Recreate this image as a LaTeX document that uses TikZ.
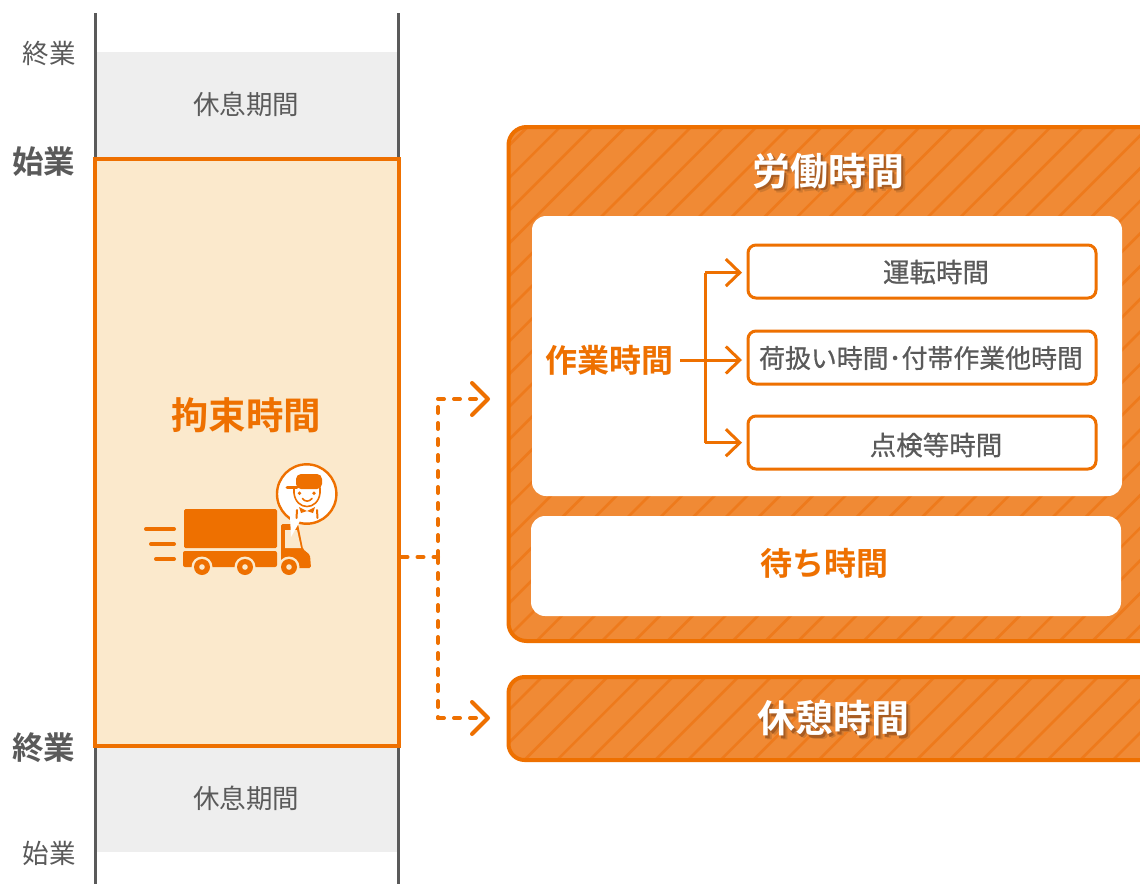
\documentclass[tikz,border=0pt]{standalone}
\usepackage{fontspec}
\usetikzlibrary{arrows.meta}
\setmainfont{Noto Sans CJK JP}
\newfontfamily\medjp[FakeBold=0.6]{Noto Sans CJK JP}
\newfontfamily\boldjp{Noto Sans CJK JP Bold}
\definecolor{org}{HTML}{EE7000}
\definecolor{orgfill}{HTML}{F08A35}
\definecolor{orgline}{HTML}{EE7A1C}
\definecolor{cream}{HTML}{FBE9CC}
\definecolor{txt}{HTML}{5A5A5A}
\definecolor{pale}{HTML}{EEEEEE}
\definecolor{shadeA}{HTML}{D07A30}
\definecolor{shadeB}{HTML}{A85C22}
\newcommand{\fsz}[1]{\fontsize{#1}{#1}\selectfont}
\newcommand{\shadowed}[1]{\makebox[0pt][l]{\hspace{4pt}\raisebox{-4pt}{\textcolor{shadeA}{#1}}}\makebox[0pt][l]{\hspace{2.5pt}\raisebox{-2.5pt}{\textcolor{shadeB}{#1}}}#1}
\tikzset{
  every node/.style={outer sep=0pt},
  thinlabel/.style={text=txt,inner sep=0pt,font=\fsz{26.5}},
  plainlabel/.style={text=txt,inner sep=0pt,font=\fsz{26.5}\medjp},
  widelabel/.style={text=txt,inner sep=0pt,font=\fsz{25.9}\medjp},
  boldlabel/.style={text=txt,inner sep=0pt,font=\fsz{31.5}\boldjp},
  orglabel/.style={text=org,inner sep=0pt,font=\fsz{32}\boldjp},
  biglabel/.style={text=org,inner sep=0pt,font=\fsz{37.5}\boldjp},
  whitelabel/.style={text=white,inner sep=0pt,font=\fsz{38}\boldjp},
  smallbox/.style={draw=org,line width=3pt,fill=white,rounded corners=8pt,minimum width=348pt,minimum height=53pt,inner sep=0pt},
  thinconn/.style={draw=org,line width=3pt,-{Straight Barb[length=14pt,width=27pt,line width=3pt]}},
  thinline/.style={draw=org,line width=3pt},
  dashconn/.style={draw=org,line width=4pt,line cap=round,dash pattern=on 6pt off 10pt},
  dashtip/.style={dashconn,-{Straight Barb[length=16pt,width=32pt,line width=4pt,round]}},
  hatchline/.style={draw=orgline,line width=2.6pt},
  truckpart/.style={fill=org,draw=none},
  face/.style={draw=org,line width=1.6pt,line cap=round},
}
\begin{document}
\begin{tikzpicture}[x=1pt,y=-1pt]
\clip (0,0) rectangle (1140,884);
\fill[white] (0,0) rectangle (1140,884);
% left column
\fill[pale] (96,52) rectangle (398,160);
\fill[pale] (96,745) rectangle (398,852);
\coordinate (lt) at (95,13); \coordinate (lb) at (95,884);
\coordinate (rt) at (398,13); \coordinate (rb) at (398,884);
\draw[txt,line width=3pt] (lt) -- (lb);
\draw[txt,line width=3pt] (rt) -- (rb);
\node[draw=org,fill=cream,line width=4pt,minimum width=303.5pt,minimum height=587pt,inner sep=0pt,anchor=north west] (main) at (95,158.5) {};
\node[thinlabel] (e1) at (49.5,53.5) {終業};
\node[thinlabel] (r1) at (246,104.5) {休息期間};
\node[boldlabel] (s1) at (44,161.5) {始業};
\node[boldlabel] (e2) at (44,747.5) {終業};
\node[thinlabel] (r2) at (246,798.5) {休息期間};
\node[thinlabel] (s2) at (49.5,853.5) {始業};
\node[biglabel] (kosoku) at (246,415) {拘束時間};
% truck
\draw[org,line width=4pt,line cap=round] (146,529) -- (174,529);
\draw[org,line width=4pt,line cap=round] (151,544) -- (174,544);
\draw[org,line width=4pt,line cap=round] (156,559) -- (174,559);
\fill[truckpart,rounded corners=1.5pt] (184,509) rectangle (277,548);
\fill[truckpart,rounded corners=2pt] (183,551) rectangle (277,567);
\fill[truckpart,rounded corners=1.5pt] (281,524) -- (298,524) -- (303,549) -- (310,555) -- (311,568) -- (281,568) -- cycle;
\fill[cream] (285,530) -- (297,530) -- (301,548) -- (285,548) -- cycle;
\foreach \wx in {202,245,289}{
  \fill[cream] (\wx,567) circle (10.5pt);
  \fill[org] (\wx,567) circle (8pt);
  \fill[cream] (\wx,567) circle (2.8pt);
}
% speech bubble and driver
\draw[org,fill=white,line width=2.4pt] (306.7,494) circle (29.7pt);
\fill[white] (290,516) -- (291,537) -- (299,523) -- (302,515) -- cycle;
\draw[face,fill=white] (294,488) -- (294,493) .. controls (296,511) and (318,511) .. (320,493) -- (320,488);
\fill[org,rounded corners=5pt] (296,489) -- (296,474) -- (322,474) -- (322,489) -- cycle;
\draw[org,line width=3pt,line cap=round] (287,487) -- (297,487);
\fill[org] (299.5,493.3) circle (1.9pt);
\fill[org] (314,493.3) circle (1.9pt);
\draw[face] (302.5,498.5) .. controls (305,502) and (309,502) .. (312,498.5);
\draw[face,line width=2pt] (297,510) -- (296.5,518);
\draw[face,line width=2pt] (317,510) -- (317.5,518);
\fill[org] (299,507) -- (307,511) -- (315,507) -- (313,513) -- (307,511) -- (301,513) -- cycle;
% labour time box
\fill[orgfill,rounded corners=18pt] (508.5,127) rectangle (1170,641);
\begin{scope}
\clip[rounded corners=18pt] (508.5,127) rectangle (1170,641);
\foreach \k in {0,...,40}{
  \pgfmathsetmacro{\s}{589+32.7*\k}
  \draw[hatchline] (\s-100,100) -- (\s-700,700);
}
\end{scope}
\node[draw=org,line width=4pt,rounded corners=18pt,minimum width=661.5pt,minimum height=514pt,inner sep=0pt,anchor=north west] (work) at (508.5,127) {};
\node[whitelabel] (rodo) at (828,173) {\shadowed{労働時間}};
\fill[white,rounded corners=14pt] (532,216) rectangle (1122,496);
\node[fill=white,rounded corners=14pt,minimum width=590pt,minimum height=100pt,inner sep=0pt,anchor=north west] (wait) at (531,516) {};
\node[orglabel] (machi) at (824,563) {待ち時間};
\node[orglabel] (sagyo) at (609,360) {作業時間};
\node[smallbox,anchor=north west] (b1) at (748,245) {};
\node[smallbox,anchor=north west] (b2) at (748,331) {};
\node[smallbox,anchor=north west] (b3) at (748,416) {};
\node[plainlabel] (t1) at (936,272) {運転時間};
\node[widelabel] (t2) at (921,358) {荷扱い時間･付帯作業他時間};
\node[plainlabel] (t3) at (936,445) {点検等時間};
\coordinate (jt) at (705,272.6);
\coordinate (jb) at (705,442.7);
\coordinate (jm) at (680,360);
\draw[thinline] (jt) -- (jb);
\draw[thinconn,shorten >=6pt] (jm) -- (jm -| b2.west);
\draw[thinconn,shorten >=6pt] (jt) -- (jt -| b1.west);
\draw[thinconn,shorten >=6pt] (jb) -- (jb -| b3.west);
% rest box
\fill[orgfill,rounded corners=16pt] (508.5,677) rectangle (1170,760);
\begin{scope}
\clip[rounded corners=16pt] (508.5,677) rectangle (1170,760);
\foreach \k in {0,...,22}{
  \pgfmathsetmacro{\s}{1219+32.7*\k}
  \draw[hatchline] (\s-620,620) -- (\s-820,820);
}
\end{scope}
\node[draw=org,line width=4pt,rounded corners=16pt,minimum width=661.5pt,minimum height=83pt,inner sep=0pt,anchor=north west] (rest) at (508.5,677) {};
\node[whitelabel] (kyukei) at (833,720) {\shadowed{休憩時間}};
% dashed connectors
\coordinate (dj) at (438,557);
\coordinate (dup) at (438,399);
\coordinate (ddn) at (438,718);
\coordinate (aup) at (490,399);
\coordinate (adn) at (490,718);
\draw[dashconn] (main.east |- dj) ++(3,0) -- (dj);
\draw[dashconn] (dj) -- (dup);
\draw[dashconn] (dj) -- (ddn);
\draw[dashtip] (dup) -- (aup);
\draw[dashtip] (ddn) -- (adn);
\end{tikzpicture}
\end{document}
